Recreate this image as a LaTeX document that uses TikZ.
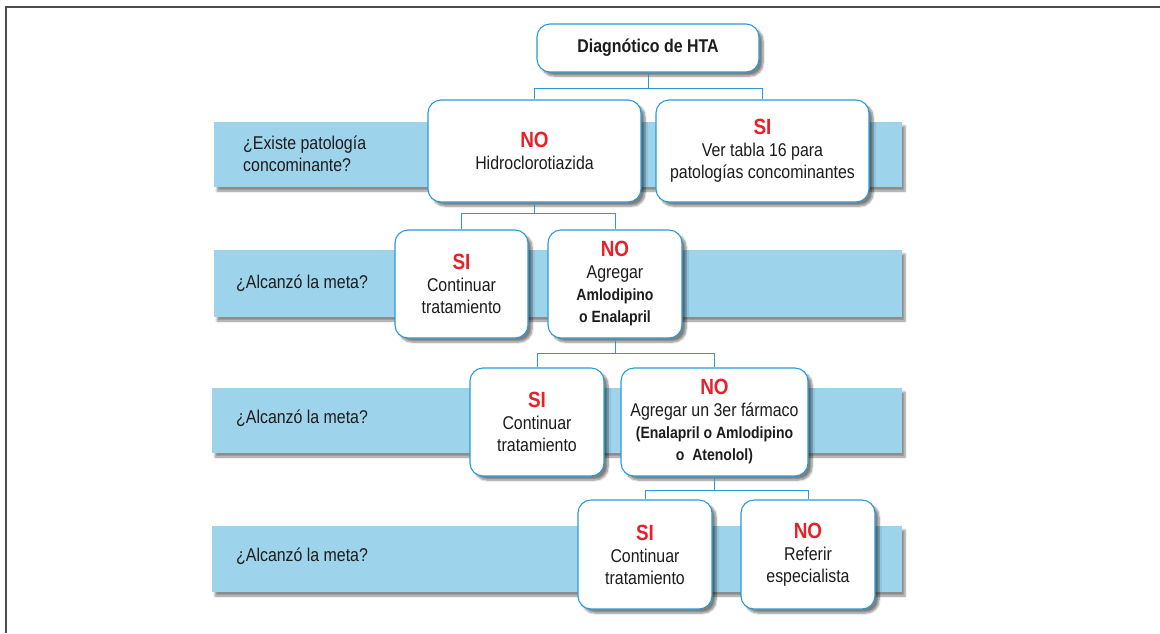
\documentclass[tikz,border=0pt]{standalone}
\usepackage{fontspec}
\setmainfont{Liberation Sans}[FakeStretch=0.86]
\usetikzlibrary{shadows.blur}
\definecolor{bandblue}{RGB}{157,212,236}
\definecolor{lineblue}{RGB}{42,154,212}
\definecolor{resred}{RGB}{232,32,42}
\definecolor{txt}{RGB}{30,27,28}
\newcommand{\resp}[1]{{\color{resred}\fontsize{22}{22}\selectfont\bfseries #1}}
\newcommand{\drug}[1]{{\fontsize{16.3}{21.5}\selectfont\bfseries #1}}
\begin{document}
\begin{tikzpicture}[
  x=1pt, y=-1pt,
  every node/.style={font=\fontsize{18.5}{22}\selectfont, text=txt},
  band/.style={fill=bandblue, draw=none, minimum width=688pt,
    blur shadow={shadow xshift=3pt, shadow yshift=-4pt, shadow blur steps=6, shadow opacity=45}},
  ask/.style={anchor=west, align=left, inner sep=0pt},
  box/.style={draw=lineblue, line width=1.1pt, fill=white, rounded corners=13pt,
    align=center, inner sep=2pt,
    blur shadow={shadow xshift=4pt, shadow yshift=-4pt, shadow blur steps=6, shadow opacity=50}},
  link/.style={draw=lineblue, line width=0.9pt}
]
\useasboundingbox (0,0) rectangle (1160,633);
\draw[gray!60!black, line width=1.6pt] (6,633) -- (6,7) -- (1160,7);

\node[band, minimum height=65pt] (b1) at (558,154.5) {};
\node[band, minimum height=67pt] (b2) at (558,283.5) {};
\node[band, minimum height=65pt, minimum width=690pt] (b3) at (557,420.5) {};
\node[band, minimum height=66pt, minimum width=690pt] (b4) at (557,559) {};

\node[ask] (q1) at (243,154) {¿Existe patología\\concominante?};
\node[ask] (q2) at (236,283) {¿Alcanzó la meta?};
\node[ask] (q3) at (236,418) {¿Alcanzó la meta?};
\node[ask] (q4) at (236,556) {¿Alcanzó la meta?};

\node[box, minimum width=222pt, minimum height=48pt] (dx) at (648,48) {\bfseries Diagnótico de HTA};

\node[box, minimum width=213pt, minimum height=102pt] (no1) at (534.5,151) {\resp{NO}\\Hidroclorotiazida};
\node[box, minimum width=213pt, minimum height=102pt] (si1) at (762.5,151) {\resp{SI}\\Ver tabla 16 para\\patologías concominantes};

\node[box, minimum width=133pt, minimum height=108pt] (si2) at (461.5,284) {\resp{SI}\\Continuar\\tratamiento};
\node[box, minimum width=134pt, minimum height=108pt] (no2) at (615,284) {\resp{NO}\\Agregar\\\drug{Amlodipino}\\\drug{o Enalapril}};

\node[box, minimum width=134pt, minimum height=108pt] (si3) at (537,422) {\resp{SI}\\Continuar\\tratamiento};
\node[box, minimum width=187pt, minimum height=108pt] (no3) at (714.5,422) {\resp{NO}\\Agregar un 3er fármaco\\\drug{(Enalapril o Amlodipino}\\\drug{o\ \ Atenolol)}};

\node[box, minimum width=134pt, minimum height=109pt] (si4) at (645,554.5) {\resp{SI}\\Continuar\\tratamiento};
\node[box, minimum width=134pt, minimum height=109pt] (no4) at (808,554.5) {\resp{NO}\\Referir\\especialista};

\draw[link] (dx.south) -- ++(0,16) coordinate (j1) -| (no1.north);
\draw[link] (j1) -| (si1.north);
\draw[link] (no1.south) -- ++(0,11) coordinate (j2) -| (si2.north);
\draw[link] (j2) -| (no2.north);
\draw[link] (no2.south) -- ++(0,15) coordinate (j3) -| (si3.north);
\draw[link] (j3) -| (no3.north);
\draw[link] (no3.south) -- ++(0,14) coordinate (j4) -| (si4.north);
\draw[link] (j4) -| (no4.north);
\end{tikzpicture}
\end{document}
